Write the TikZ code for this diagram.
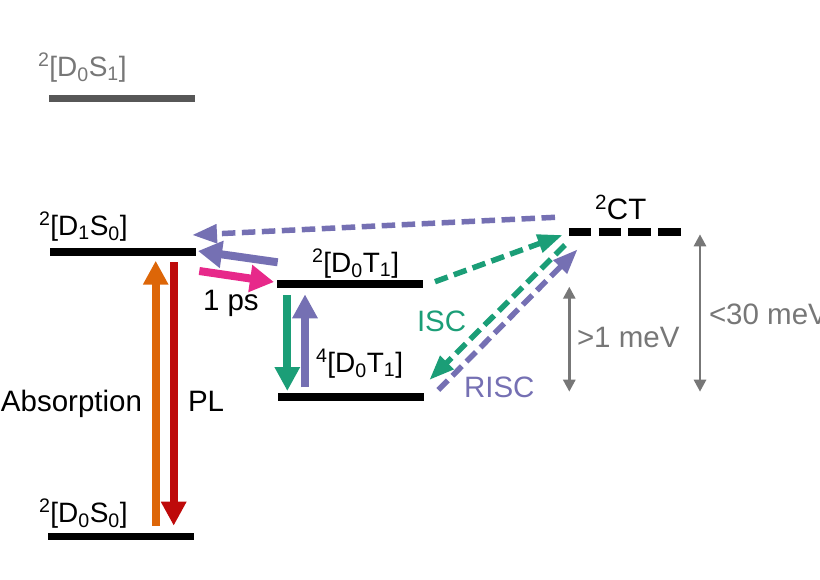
\documentclass[tikz,border=0pt]{standalone}
\usepackage{fontspec}
\setmainfont{Liberation Sans}
\usetikzlibrary{arrows.meta,calc,positioning}
\definecolor{iscgreen}{HTML}{1B9E77}
\definecolor{rscpurple}{HTML}{7570B3}
\definecolor{absorange}{HTML}{DD6608}
\definecolor{plred}{HTML}{BE0A0A}
\definecolor{fastpink}{HTML}{E7298A}
\definecolor{gapgray}{HTML}{777777}
\newcommand{\sta}[4]{\textsuperscript{#1}[D\textsubscript{#2}#3\textsubscript{#4}]}

\begin{document}
\begin{tikzpicture}[x=1pt, y=-1pt, font=\fontsize{29.5}{32}\selectfont,
  level/.style   = {rectangle, fill=black, minimum width=146pt, minimum height=7.5pt, inner sep=0pt, outer sep=0pt},
  label/.style   = {anchor=base west, inner sep=0pt, outer sep=0pt},
  state/.style   = {label, font=\fontsize{28}{32}\selectfont},
  solid/.style   = {line width=8pt, -{Triangle[length=24pt, width=24pt]}},
  soft/.style    = {line width=8pt, -{Triangle[length=24pt, width=26pt]}},
  trans/.style   = {line width=5.5pt, dash pattern=on 13.5pt off 6.5pt, -{Triangle[length=25pt, width=18pt]}},
  gap/.style     = {gapgray, line width=2.8pt, {Triangle[length=12pt, width=12pt]}-{Triangle[length=12pt, width=12pt]}},
  ]
  \useasboundingbox (0,0) rectangle (820,579);
  % levels
  \node[level, fill=black!66] (S1) at (121.5,98.5) {};
  \node[level] (D1) at (123,252) {};
  \node[level] (T2) at (350,284) {};
  \node[level] (T4) at (351,397) {};
  \node[level] (S0) at (121,536.5) {};
  \node[rectangle, inner sep=0pt, minimum width=112pt, minimum height=7.5pt] (CT) at (625,232) {};
  \draw[line width=7.5pt, dash pattern=on 22.5pt off 7.3pt] (CT.west) -- (CT.east);
  % arrow ends
  \coordinate (absS) at (155.7,525.7);
  \coordinate (absE) at (155.7,260.7);
  \coordinate (plS) at (173.7,262);
  \coordinate (plE) at (173.7,525.7);
  \coordinate (backS) at (277.7,262.3);
  \coordinate (backE) at (198,251);
  \coordinate (fastS) at (199.3,271);
  \coordinate (fastE) at (274,282);
  \coordinate (downS) at (287.3,295.3);
  \coordinate (downE) at (287.3,391);
  \coordinate (upS) at (305,387.3);
  \coordinate (upE) at (305,294.3);
  \coordinate (ctS) at (555,217.3);
  \coordinate (ctE) at (192,235);
  \coordinate (iscAS) at (435,281.7);
  \coordinate (iscAE) at (562.7,235);
  \coordinate (iscBS) at (565,245);
  \coordinate (iscBE) at (429.3,380);
  \coordinate (riscS) at (438.3,390);
  \coordinate (riscE) at (577.7,249.3);
  \coordinate (smallT) at (569.3,286.7);
  \coordinate (smallB) at (569.3,391.7);
  \coordinate (largeT) at (700,234.3);
  \coordinate (largeB) at (700,391.7);
  % arrows
  \draw[solid, absorange] (absS) -- (absE);
  \draw[solid, plred] (plS) -- (plE);
  \draw[soft, rscpurple] (backS) -- (backE);
  \draw[soft, fastpink] (fastS) -- (fastE);
  \draw[solid, iscgreen] (downS) -- (downE);
  \draw[solid, rscpurple] (upS) -- (upE);
  \draw[trans, rscpurple] (ctS) -- (ctE);
  \draw[trans, iscgreen] (iscAS) -- (iscAE);
  \draw[trans, iscgreen] (iscBS) -- (iscBE);
  \draw[trans, rscpurple] (riscS) -- (riscE);
  \draw[gap] (smallT) -- (smallB);
  \draw[gap] (largeT) -- (largeB);
  % labels
  \node[state, gapgray] (lS1) at (38,76) {\sta{2}{0}{S}{1}};
  \node[state] (lD1) at (39,235) {\sta{2}{1}{S}{0}};
  \node[state] (lT2) at (312,272) {\sta{2}{0}{T}{1}};
  \node[state] (lT4) at (316,372) {\sta{4}{0}{T}{1}};
  \node[state] (lS0) at (39,522) {\sta{2}{0}{S}{0}};
  \node[label] (lCT) at (595,219) {\textsuperscript{2}CT};
  \node[label] (fast) at (203,310) {1 ps};
  \node[label] (abs) at (1,411.7) {Absorption};
  \node[label] (pl) at (188,411.7) {PL};
  \node[label, iscgreen] (isc) at (417,331.7) {ISC};
  \node[label, rscpurple] (risc) at (464,397) {RISC};
  \node[label, gapgray] (small) at (577,347) {>1 meV};
  \node[label, gapgray] (large) at (709,324) {<30 meV};
\end{tikzpicture}
\end{document}
